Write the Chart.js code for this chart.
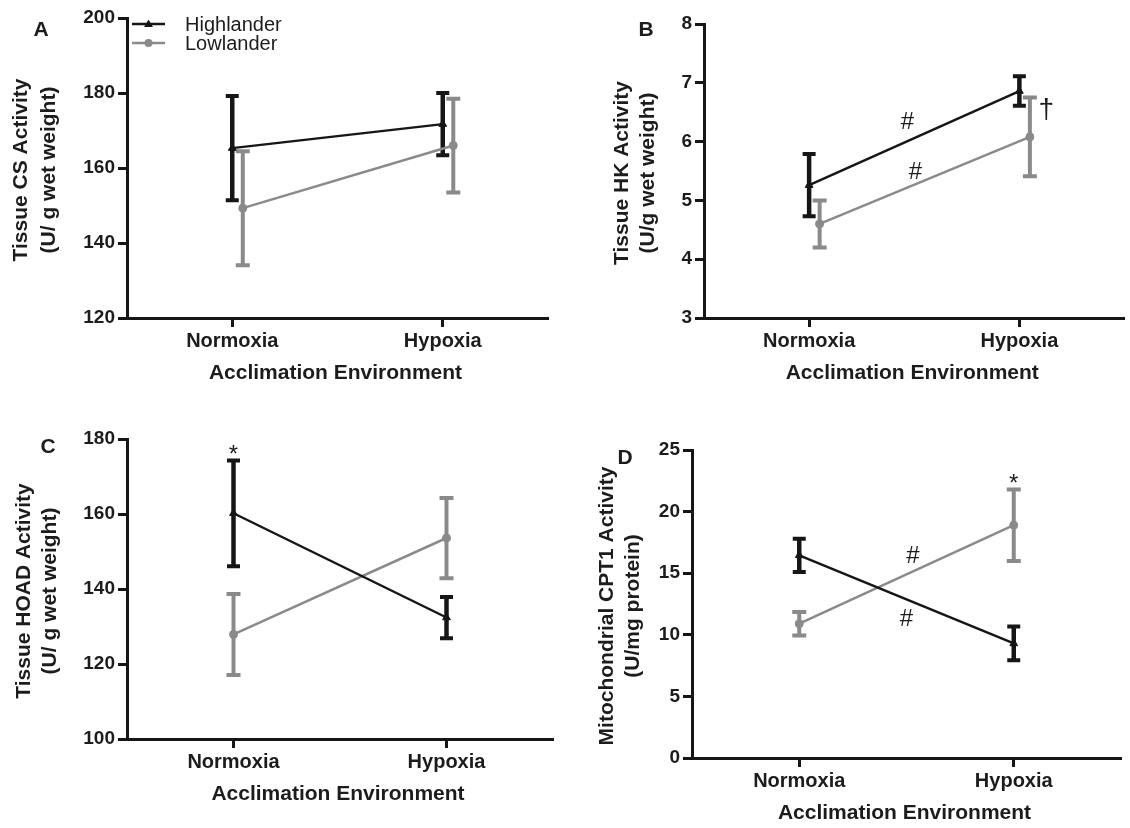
<!DOCTYPE html>
<html>
<head>
<meta charset="utf-8">
<script src="https://cdn.jsdelivr.net/npm/chart.js@4.4.1/dist/chart.umd.min.js"></script>
<style>
  html, body { margin: 0; padding: 0; background: #ffffff; }
  #wrap { position: relative; width: 1130px; height: 828px; overflow: hidden; background: #ffffff; }
  #wrap canvas { position: absolute; }
</style>
</head>
<body>
<div id="wrap">
  <canvas id="panelA" width="565" height="410" style="left:0px;top:0px"></canvas>
  <canvas id="panelB" width="565" height="410" style="left:565px;top:0px"></canvas>
  <canvas id="panelC" width="565" height="418" style="left:0px;top:410px"></canvas>
  <canvas id="panelD" width="565" height="418" style="left:565px;top:410px"></canvas>
</div>
<script>
// ---- data ----
const conditions = ['Normoxia', 'Hypoxia'];
const seriesNames = ['Highlander', 'Lowlander'];

// A: tissue citrate synthase activity (U/g wet weight), mean and SEM
const csHighlander = [165.3, 171.7];
const csHighlanderSEM = [13.9, 8.3];
const csLowlander = [149.3, 166.0];
const csLowlanderSEM = [15.2, 12.5];
const csTicks = [120, 140, 160, 180, 200];

// B: tissue hexokinase activity (U/g wet weight)
const hkHighlander = [5.26, 6.86];
const hkHighlanderSEM = [0.53, 0.25];
const hkLowlander = [4.60, 6.08];
const hkLowlanderSEM = [0.40, 0.67];
const hkTicks = [3, 4, 5, 6, 7, 8];

// C: tissue HOAD activity (U/g wet weight)
const hoadHighlander = [160.2, 132.4];
const hoadHighlanderSEM = [14.1, 5.5];
const hoadLowlander = [127.9, 153.6];
const hoadLowlanderSEM = [10.8, 10.7];
const hoadTicks = [100, 120, 140, 160, 180];

// D: mitochondrial CPT1 activity (U/mg protein)
const cptHighlander = [16.45, 9.30];
const cptHighlanderSEM = [1.35, 1.37];
const cptLowlander = [10.90, 18.90];
const cptLowlanderSEM = [0.95, 2.90];
const cptTicks = [0, 5, 10, 15, 20, 25];

// ---- styling ----
const FONT = "'Liberation Sans', Arial, Helvetica, sans-serif";
const INK = '#161616';
const GREY = '#8a8a8a';
const TEXT = '#1c1c1c';

const errorBarPlugin = {
  id: 'errorBars',
  beforeDatasetsDraw(chart) {
    const { ctx } = chart;
    const xs = chart.scales.x, ys = chart.scales.y;
    for (let di = chart.data.datasets.length - 1; di >= 0; di--) {
      const ds = chart.data.datasets[di];
      ds.data.forEach((pt, i) => {
        const e = ds.errors[i];
        const px = xs.getPixelForValue(pt.x);
        const top = ys.getPixelForValue(pt.y + e);
        const bot = ys.getPixelForValue(pt.y - e);
        ctx.save();
        ctx.strokeStyle = ds.barColor;
        ctx.lineWidth = ds.barWidth;
        ctx.lineCap = 'butt';
        ctx.beginPath();
        ctx.moveTo(px, top);
        ctx.lineTo(px, bot);
        ctx.stroke();
        ctx.lineWidth = ds.capWidth;
        ctx.beginPath();
        ctx.moveTo(px - ds.capHalf, top);
        ctx.lineTo(px + ds.capHalf, top);
        ctx.moveTo(px - ds.capHalf, bot);
        ctx.lineTo(px + ds.capHalf, bot);
        ctx.stroke();
        ctx.restore();
      });
    }
  }
};

const decorPlugin = {
  id: 'decor',
  afterDraw(chart) {
    const cfg = chart.options.plugins.decor;
    const { ctx, chartArea } = chart;
    const xs = chart.scales.x, ys = chart.scales.y;
    ctx.save();
    ctx.fillStyle = TEXT;

    // panel letter
    ctx.font = `bold 21px ${FONT}`;
    ctx.textAlign = 'center';
    ctx.textBaseline = 'middle';
    ctx.fillText(cfg.letter, cfg.letterAt[0], cfg.letterAt[1]);

    // y axis title (two lines, rotated)
    const midY = (chartArea.top + chartArea.bottom) / 2 + 2;
    ctx.font = `bold 21px ${FONT}`;
    cfg.yTitle.forEach((line, k) => {
      ctx.save();
      ctx.translate(chartArea.left + cfg.yTitleOffsets[k], midY);
      ctx.rotate(-Math.PI / 2);
      ctx.fillText(line, 0, 0);
      ctx.restore();
    });

    // x axis title
    ctx.font = `bold 21px ${FONT}`;
    ctx.fillText('Acclimation Environment', (chartArea.left + chartArea.right) / 2 - 2, chartArea.bottom + 55);

    // legend
    if (cfg.legend) {
      chart.data.datasets.forEach((ds, i) => {
        const y = chartArea.top + 6 + i * 19;
        const x0 = chartArea.left + 5, x1 = chartArea.left + 38;
        ctx.strokeStyle = ds.borderColor;
        ctx.lineWidth = 2.5;
        ctx.beginPath();
        ctx.moveTo(x0, y);
        ctx.lineTo(x1, y);
        ctx.stroke();
        ctx.fillStyle = ds.borderColor;
        const cx = (x0 + x1) / 2;
        ctx.beginPath();
        if (ds.pointStyle === 'triangle') {
          ctx.moveTo(cx, y - 4.5);
          ctx.lineTo(cx + 4.5, y + 3);
          ctx.lineTo(cx - 4.5, y + 3);
          ctx.closePath();
        } else {
          ctx.arc(cx, y, 4, 0, Math.PI * 2);
        }
        ctx.fill();
        ctx.fillStyle = TEXT;
        ctx.font = `20px ${FONT}`;
        ctx.textAlign = 'left';
        ctx.fillText(ds.label, chartArea.left + 58, y + 1);
      });
    }

    // significance marks placed in data space
    ctx.textAlign = 'center';
    (cfg.marks || []).forEach(m => {
      ctx.fillStyle = TEXT;
      if (m.above) {
        const ds = chart.data.datasets[m.above[0]];
        const pt = ds.data[m.above[1]];
        const px = xs.getPixelForValue(pt.x);
        const py = ys.getPixelForValue(pt.y + ds.errors[m.above[1]]) - 12;
        ctx.font = `24px ${FONT}`;
        ctx.textBaseline = 'alphabetic';
        ctx.fillText(m.text, px, py + 0.57 * 24);
      } else {
        ctx.font = `${m.size || 24}px ${FONT}`;
        ctx.textBaseline = 'middle';
        ctx.fillText(m.text, xs.getPixelForValue(m.x), ys.getPixelForValue(m.y));
      }
    });
    ctx.restore();
  }
};

function axisCommon() {
  return {
    grid: { drawOnChartArea: false, drawTicks: true, tickLength: 9, tickWidth: 3, tickColor: INK },
    border: { display: true, color: INK, width: 3 }
  };
}

function makePanel(id, p) {
  const datasets = [
    {
      label: seriesNames[0],
      data: p.high.map((v, i) => ({ x: i, y: v })),
      errors: p.highErr,
      borderColor: INK, backgroundColor: INK,
      borderWidth: 2.5,
      pointStyle: 'triangle', pointRadius: 4.5, pointBorderWidth: 1,
      barColor: INK, barWidth: 4.5, capWidth: 4, capHalf: 6.5,
      showLine: true
    },
    {
      label: seriesNames[1],
      data: p.low.map((v, i) => ({ x: i + p.dodge, y: v })),
      errors: p.lowErr,
      borderColor: GREY, backgroundColor: GREY,
      borderWidth: 2.5,
      pointStyle: 'circle', pointRadius: 4, pointBorderWidth: 1,
      barColor: GREY, barWidth: 4, capWidth: 4, capHalf: 7,
      showLine: true
    }
  ];
  const ticks = p.ticks;
  return new Chart(document.getElementById(id), {
    type: 'scatter',
    data: { datasets },
    plugins: [errorBarPlugin, decorPlugin],
    options: {
      responsive: false,
      animation: false,
      events: [],
      layout: { padding: p.pad },
      plugins: {
        legend: { display: false },
        tooltip: { enabled: false },
        decor: p.decor
      },
      scales: {
        x: Object.assign(axisCommon(), {
          type: 'linear',
          min: -0.5, max: 1.5,
          afterBuildTicks: s => { s.ticks = conditions.map((c, i) => ({ value: i })); },
          afterFit: s => { s.height = 60; },
          ticks: {
            callback: v => conditions[v] ?? '',
            font: { family: FONT, size: 20, weight: 'bold' },
            color: TEXT, padding: 2, maxRotation: 0, autoSkip: false
          }
        }),
        y: Object.assign(axisCommon(), {
          type: 'linear',
          min: ticks[0], max: ticks[ticks.length - 1],
          afterBuildTicks: s => { s.ticks = ticks.map(v => ({ value: v })); },
          afterFit: s => { s.width = 50; },
          ticks: {
            font: { family: FONT, size: 19, weight: 'bold' },
            color: TEXT, padding: 3
          }
        })
      }
    }
  });
}

makePanel('panelA', {
  high: csHighlander, highErr: csHighlanderSEM,
  low: csLowlander, lowErr: csLowlanderSEM,
  ticks: csTicks, dodge: 0.05,
  pad: { left: 77, right: 17, top: 18, bottom: 32 },
  decor: {
    letter: 'A', letterAt: [41, 30],
    yTitle: ['Tissue CS Activity', '(U/ g wet weight)'], yTitleOffsets: [-106, -78],
    legend: true, marks: []
  }
});

makePanel('panelB', {
  high: hkHighlander, highErr: hkHighlanderSEM,
  low: hkLowlander, lowErr: hkLowlanderSEM,
  ticks: hkTicks, dodge: 0.05,
  pad: { left: 89, right: 5, top: 24, bottom: 32 },
  decor: {
    letter: 'B', letterAt: [81, 30],
    yTitle: ['Tissue HK Activity', '(U/g wet weight)'], yTitleOffsets: [-82, -56],
    legend: false,
    marks: [
      { text: '#', x: 0.468, y: 6.32 },
      { text: '#', x: 0.506, y: 5.47 },
      { text: '\u2020', x: 1.128, y: 6.53, size: 28 }
    ]
  }
});

makePanel('panelC', {
  high: hoadHighlander, highErr: hoadHighlanderSEM,
  low: hoadLowlander, lowErr: hoadLowlanderSEM,
  ticks: hoadTicks, dodge: 0,
  pad: { left: 77, right: 12, top: 29, bottom: 29 },
  decor: {
    letter: 'C', letterAt: [48, 37],
    yTitle: ['Tissue HOAD Activity', '(U/ g wet weight)'], yTitleOffsets: [-103, -77],
    legend: false,
    marks: [{ text: '*', above: [0, 0] }]
  }
});

makePanel('panelD', {
  high: cptHighlander, highErr: cptHighlanderSEM,
  low: cptLowlander, lowErr: cptLowlanderSEM,
  ticks: cptTicks, dodge: 0,
  pad: { left: 77, right: 9, top: 40, bottom: 10 },
  decor: {
    letter: 'D', letterAt: [60, 48],
    yTitle: ['Mitochondrial CPT1 Activity', '(U/mg protein)'], yTitleOffsets: [-85, -59],
    legend: false,
    marks: [
      { text: '#', x: 0.53, y: 16.33 },
      { text: '#', x: 0.50, y: 11.22 },
      { text: '*', above: [1, 1] }
    ]
  }
});
</script>
</body>
</html>
